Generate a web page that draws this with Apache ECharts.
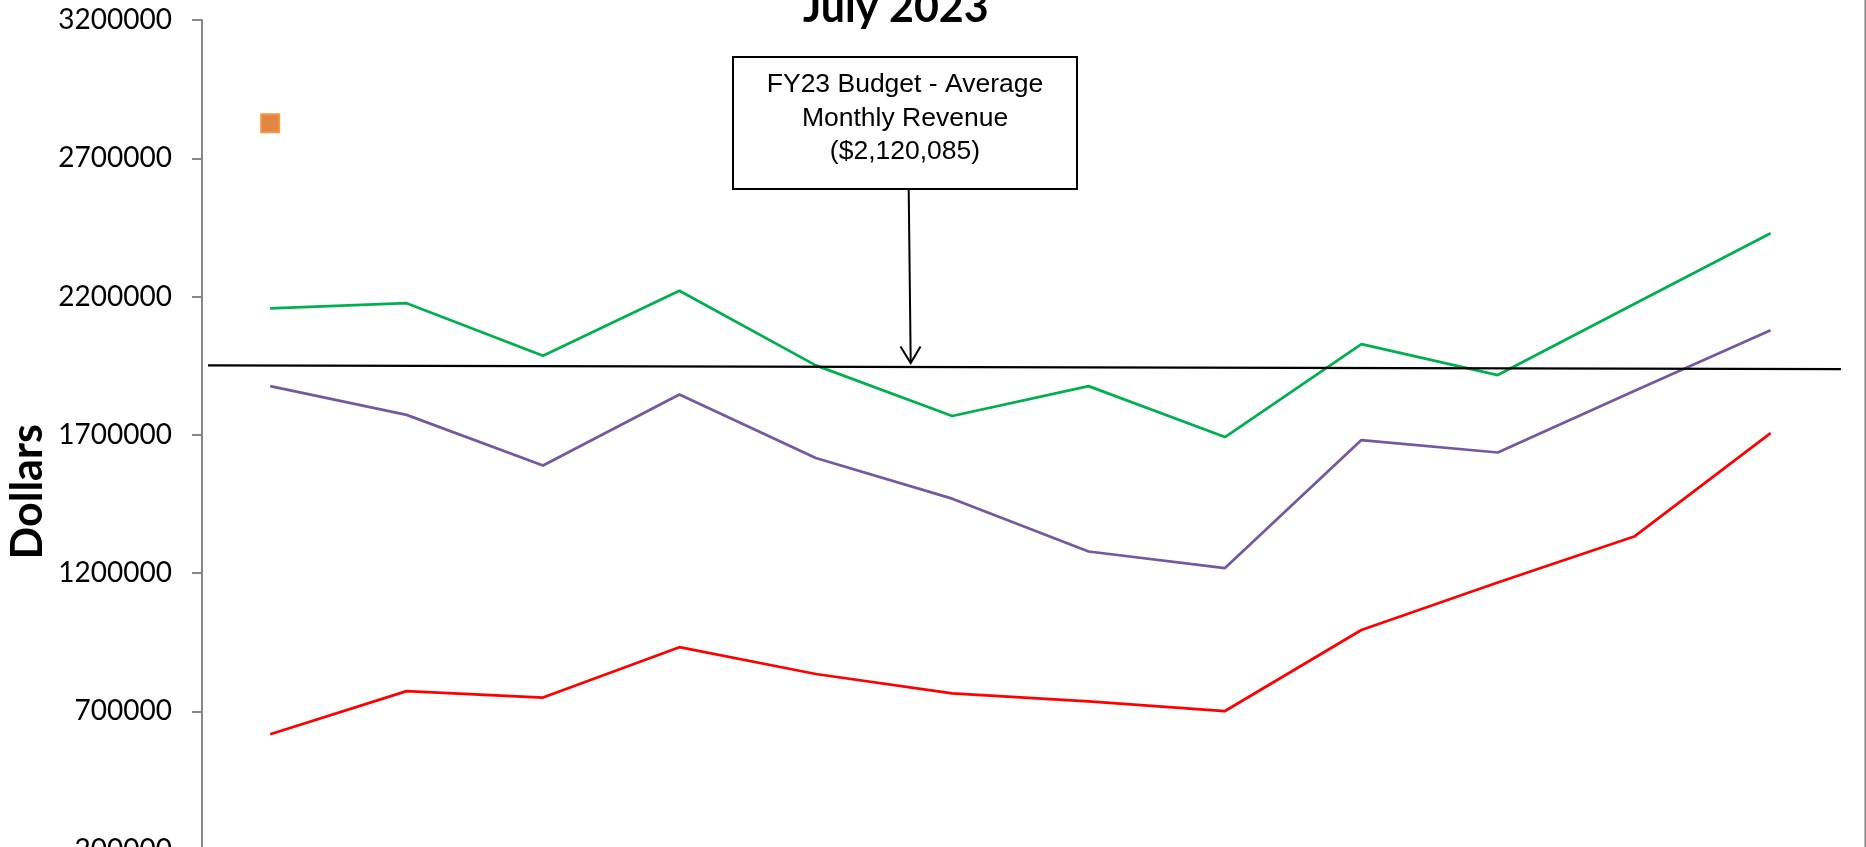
<!DOCTYPE html>
<html>
<head>
<meta charset="utf-8">
<script src="https://cdn.jsdelivr.net/npm/echarts/dist/echarts.min.js"></script>
<style>
html,body{margin:0;padding:0;background:#fff;}
#chart{width:1866px;height:847px;}
</style>
</head>
<body>
<div id="chart"></div>
<script>
// ---- data ----
const months = ['Jul','Aug','Sep','Oct','Nov','Dec','Jan','Feb','Mar','Apr','May','Jun'];
const greenSeries  = [2157000, 2176000, 1986000, 2221000, 1951000, 1768000, 1876000, 1692000, 2028000, 1916000, 2173000, 2429000];
const purpleSeries = [1876000, 1772000, 1589000, 1846000, 1616000, 1469000, 1278000, 1218000, 1681000, 1636000, 1858000, 2078000];
const redSeries    = [617000, 773000, 750000, 932000, 835000, 765000, 736000, 701000, 994000, 1166000, 1332000, 1706000];
const orangePoint  = [2827000, null, null, null, null, null, null, null, null, null, null, null];
// hand-drawn budget line, [category position, dollars] at its two ends
const budgetLine   = [[-0.456, 1951000], [11.67, 1937000]];
const yTicks = { min: 200000, max: 3200000, step: 500000 };
const titleText = 'July 2023';
const axisTitle = 'Dollars';
const noteText = 'FY23 Budget - Average\nMonthly Revenue\n($2,120,085)';

const chart = echarts.init(document.getElementById('chart'), null, {renderer: 'canvas'});
const option = {
  animation: false,
  backgroundColor: '#ffffff',
  title: {
    text: titleText,
    left: 798,
    top: -18,
    textStyle: {fontFamily: 'Lato', fontWeight: 'bold', fontSize: 43, color: '#000'}
  },
  grid: {left: 202, top: 20, width: 1636.8, height: 829.6, containLabel: false, outerBoundsMode: 'none'},
  xAxis: [
    {type: 'category', data: months, boundaryGap: true, show: false},
    {type: 'value', min: -0.5, max: 11.5, show: false}
  ],
  yAxis: {
    type: 'value',
    min: yTicks.min, max: yTicks.max, interval: yTicks.step,
    splitLine: {show: false},
    axisLine: {show: true, onZero: false, lineStyle: {color: '#878787', width: 2}},
    axisTick: {show: true, length: 10, lineStyle: {color: '#878787', width: 2}},
    axisLabel: {fontFamily: 'Lato', fontSize: 28, color: '#000', margin: 30, formatter: function (v) { return String(v); }},
    name: axisTitle,
    nameLocation: 'middle',
    nameRotate: 90,
    nameGap: 152,
    nameMoveOverlap: false,
    nameTextStyle: {fontFamily: 'Lato', fontWeight: 'bold', fontSize: 43, color: '#000', padding: [0, 114, 0, 0]}
  },
  series: [
    {name: 'Green', type: 'line', data: greenSeries, symbol: 'none', lineStyle: {color: '#00B050', width: 2.75}, itemStyle: {color: '#00B050'}},
    {name: 'Purple', type: 'line', data: purpleSeries, symbol: 'none', lineStyle: {color: '#7359A0', width: 2.75}, itemStyle: {color: '#7359A0'}},
    {name: 'Red', type: 'line', data: redSeries, symbol: 'none', lineStyle: {color: '#FF0000', width: 2.75}, itemStyle: {color: '#FF0000'}},
    {name: 'Budget marker', type: 'scatter', data: orangePoint, symbol: 'rect', symbolSize: 18,
     itemStyle: {color: '#DE8643', borderColor: '#F79646', borderWidth: 2, opacity: 1}},
    {name: 'Budget line', type: 'line', xAxisIndex: 1, data: budgetLine, symbol: 'none', clip: false, silent: true,
     lineStyle: {color: '#000', width: 2.25}}
  ],
  graphic: [
    {type: 'rect', shape: {x: 733, y: 57, width: 344, height: 132}, style: {fill: '#fff', stroke: '#000', lineWidth: 2}, z: 10},
    {type: 'text', x: 905, y: 118.5, style: {text: noteText, font: '26.5px "Liberation Sans", Arial, sans-serif', fill: '#000', align: 'center', verticalAlign: 'middle', lineHeight: 33.5}, z: 11},
    {type: 'line', shape: {x1: 908.7, y1: 190, x2: 910.7, y2: 362}, style: {stroke: '#000', lineWidth: 2}, z: 10},
    {type: 'polyline', shape: {points: [[900.5, 346.5], [910.7, 363], [920.5, 346.5]]}, style: {stroke: '#000', lineWidth: 2, fill: null}, z: 10},
    {type: 'line', shape: {x1: 1865.2, y1: 0, x2: 1865.2, y2: 847}, style: {stroke: '#808080', lineWidth: 1.5}, z: 10}
  ]
};
chart.setOption(option);
</script>
</body>
</html>
